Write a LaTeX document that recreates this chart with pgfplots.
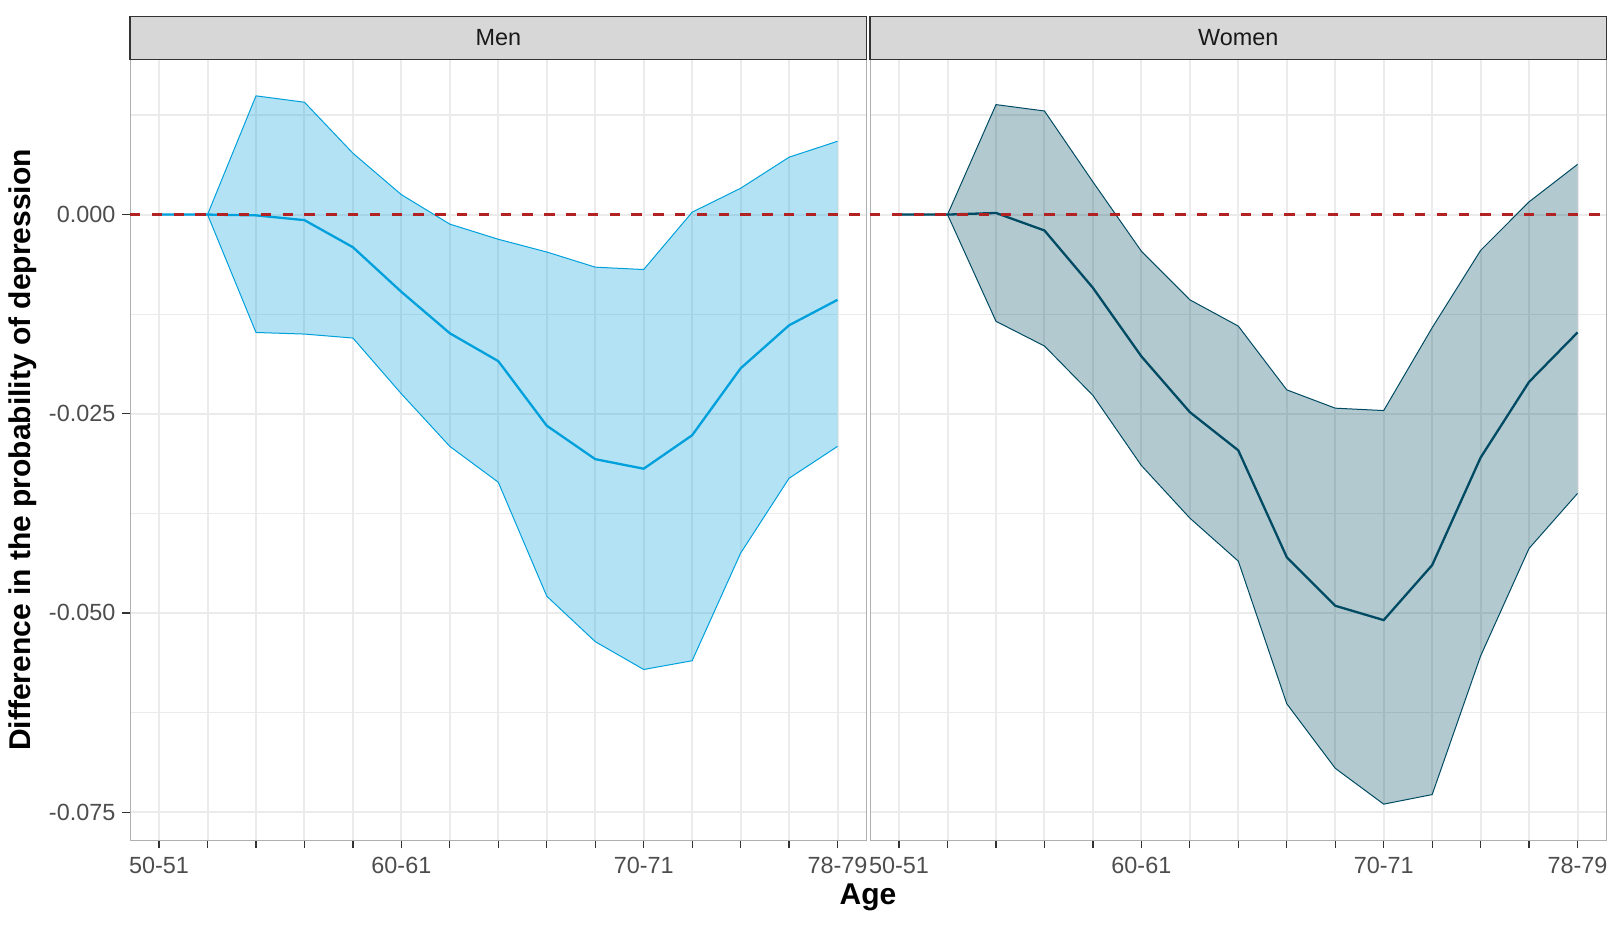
\documentclass[border=0pt]{standalone}
\usepackage{fontspec}
\setmainfont{Liberation Sans}
\usepackage{pgfplots}
\pgfplotsset{compat=1.18}
\usepackage{pgfplotstable}
\usepgfplotslibrary{fillbetween}

\definecolor{menc}{HTML}{00A0DC}
\definecolor{womc}{HTML}{004B63}
\definecolor{zeroc}{HTML}{B22222}
\definecolor{gridc}{HTML}{EBEBEB}
\definecolor{borderc}{HTML}{B0B0B0}
\definecolor{stripc}{HTML}{D7D7D7}
\definecolor{stripb}{HTML}{333333}
\definecolor{tickc}{HTML}{333333}
\definecolor{labc}{HTML}{4D4D4D}

% x = age group index (0 = 50-51 ... 14 = 78-79)
\pgfplotstableread{
x mean up lo
0 0 0 0
1 0 0 0
2 -0.0001 0.0149 -0.0148
3 -0.0007 0.0141 -0.0150
4 -0.0041 0.0077 -0.0155
5 -0.0097 0.0025 -0.0225
6 -0.0149 -0.0012 -0.0291
7 -0.0184 -0.0031 -0.0336
8 -0.0265 -0.0047 -0.0479
9 -0.0307 -0.0066 -0.0536
10 -0.0319 -0.0069 -0.0571
11 -0.0277 0.0003 -0.0560
12 -0.0193 0.0033 -0.0425
13 -0.0139 0.0072 -0.0331
14 -0.0107 0.0092 -0.0291
}\men

\pgfplotstableread{
x mean up lo
0 0 0 0
1 0 0 0
2 0.0002 0.0138 -0.0134
3 -0.0020 0.0130 -0.0165
4 -0.0092 0.0041 -0.0227
5 -0.0178 -0.0046 -0.0315
6 -0.0248 -0.0107 -0.0381
7 -0.0296 -0.0140 -0.0435
8 -0.0430 -0.0220 -0.0614
9 -0.0491 -0.0243 -0.0695
10 -0.0509 -0.0246 -0.0740
11 -0.0440 -0.0142 -0.0728
12 -0.0305 -0.0045 -0.0554
13 -0.0210 0.0016 -0.0419
14 -0.0148 0.0063 -0.0350
}\women

\pgfplotsset{
  panel/.style={
    scale only axis,
    width=368.3pt, height=390pt,
    anchor=south west,
    xmin=-0.6, xmax=14.6,
    ymin=-0.0785, ymax=0.0194,
    xtick={0,...,14},
    xticklabels={50-51,{},{},{},{},60-61,{},{},{},{},70-71,{},{},{},78-79},
    ytick={-0.075,-0.05,-0.025,0},
    minor ytick={-0.0625,-0.0375,-0.0125,0.0125},
    xmajorgrids, ymajorgrids, yminorgrids,
    major grid style={draw=gridc, line width=1pt},
    minor grid style={draw=gridc, line width=0.6pt},
    axis line style={draw=borderc, line width=0.5pt},
    tick align=outside,
    major tick length=3.8pt,
    minor tick length=0pt,
    tick style={draw=tickc, line width=0.6pt},
    xtick pos=bottom, ytick pos=left,
    ticklabel style={font=\fontsize{11.7}{14}\selectfont, text=labc},
    xticklabel style={yshift=-1.2pt},
    every axis title/.style={at={(0.5,1)}, anchor=south,
      fill=stripc, draw=stripb, line width=0.6pt,
      minimum width=368.3pt, minimum height=21.5pt, inner sep=0pt,
      font=\fontsize{11.7}{14}\selectfont, text=black!90},
  },
  ribbon/.style={line width=0.5pt},
}

\begin{document}
\begin{tikzpicture}

\begin{axis}[panel, at={(65pt,0pt)}, title={Men},
  yticklabels={-0.075,-0.050,-0.025,0.000}]
  \addplot[ribbon, menc, name path=mu] table[x=x, y=up] {\men};
  \addplot[ribbon, menc, name path=ml] table[x=x, y=lo] {\men};
  \addplot[fill=menc, fill opacity=0.3, draw=none] fill between[of=mu and ml];
  \addplot[menc, line width=1.15pt] table[x=x, y=mean] {\men};
  \addplot[zeroc, line width=1.2pt, dash pattern=on 5.2pt off 5.7pt] coordinates {(-0.6,0) (14.6,0)};
\end{axis}

\begin{axis}[panel, at={(435pt,0pt)}, title={Women},
  yticklabels={}, ytick style={draw=none}]
  \addplot[ribbon, womc, name path=wu] table[x=x, y=up] {\women};
  \addplot[ribbon, womc, name path=wl] table[x=x, y=lo] {\women};
  \addplot[fill=womc, fill opacity=0.3, draw=none] fill between[of=wu and wl];
  \addplot[womc, line width=1.15pt] table[x=x, y=mean] {\women};
  \addplot[zeroc, line width=1.2pt, dash pattern=on 5.2pt off 5.7pt] coordinates {(-0.6,0) (14.6,0)};
\end{axis}

\node[font=\bfseries\fontsize{15}{18}\selectfont, anchor=base] at (434pt,-32pt) {Age};
\node[font=\bfseries\fontsize{15}{18}\selectfont, rotate=90, anchor=center] at (11.5pt,195pt) {Difference in the probability of depression};
\path (0,-43pt) rectangle (808pt,420pt);
\end{tikzpicture}
\end{document}
